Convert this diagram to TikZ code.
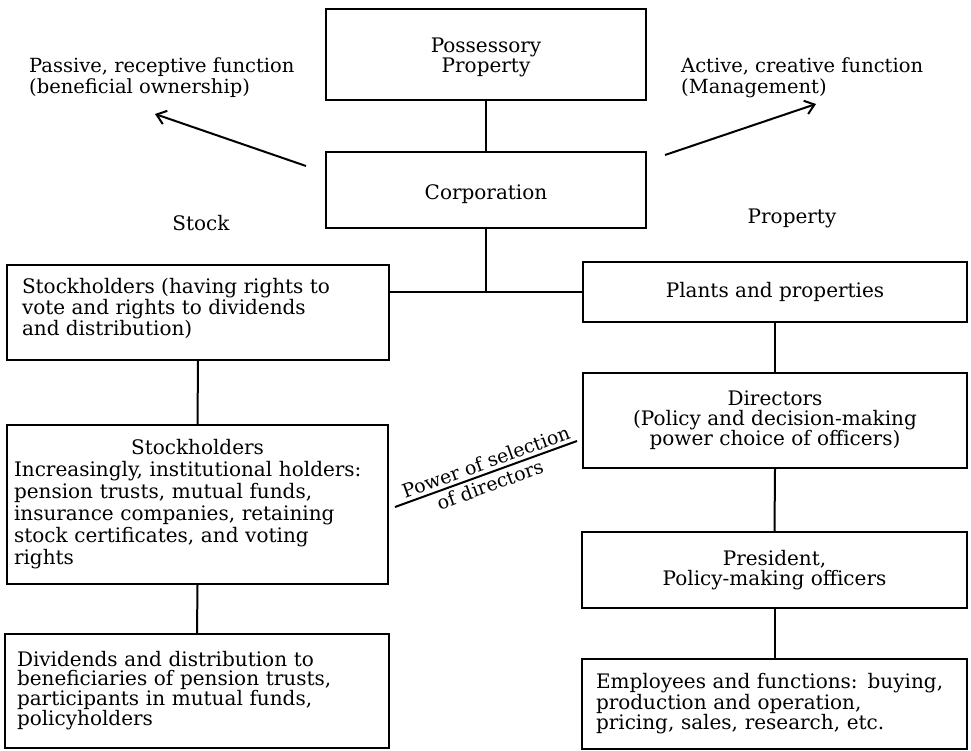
\documentclass[tikz,border=0pt]{standalone}
\usepackage{fontspec}
\setmainfont{DejaVu Serif}
\usetikzlibrary{arrows.meta}
\newcommand\fsz[2]{\fontsize{#1}{#2}\selectfont}
\newcommand\lowerit[2]{\raisebox{#1}[\height][\depth]{#2}}
\begin{document}
\begin{tikzpicture}[x=1pt,y=-1pt,
  box/.style={draw,line width=2.2pt,inner sep=0pt,font=\fsz{20}{20}},
  conn/.style={line width=2pt},
  arr/.style={line width=2pt,-{Straight Barb[length=9pt,width=14pt]}},
  lbl/.style={inner sep=0pt,font=\fsz{19.5}{21},align=left}]
\fill[white] (0,0) rectangle (971,751);
\path[use as bounding box] (0,0) rectangle (971,751);

% boxes
\node[box,minimum width=320pt,minimum height=91pt] (poss) at (486,54.5)
  {\lowerit{-4pt}{\begin{tabular}{@{}c@{}}Possessory\\[-1pt]Property\end{tabular}}};
\node[box,minimum width=320pt,minimum height=76pt] (corp) at (486,190) {\lowerit{-4pt}{Corporation}};
\node[box,minimum width=382pt,minimum height=95pt] (sh1) at (198,312.5)
  {\lowerit{4pt}{\parbox{352pt}{\raggedright\fsz{20}{21}Stockholders (having rights to\\vote and rights to dividends\\and distribution)}}};
\node[box,minimum width=381pt,minimum height=159pt,text width=367pt,align=left,font=\fsz{20}{22}] (sh2) at (197.5,504.5)
  {\makebox[367pt][c]{Stockholders}\\Increasingly, institutional holders:\\pension trusts, mutual funds,\\insurance companies, retaining\\stock certificates, and voting\\rights};
\node[box,minimum width=384pt,minimum height=114pt,text width=360pt,align=left,font=\fsz{20}{18.5}] (div) at (197,691)
  {Dividends and distribution to\\beneficiaries of pension trusts,\\participants in mutual funds,\\policyholders};
\node[box,minimum width=384pt,minimum height=60pt] (plants) at (775,292) {Plants and properties};
\node[box,minimum width=384pt,minimum height=95pt,align=center] (dir) at (775,420.5)
  {Directors\\(Policy and decision-making\\power choice of officers)};
\node[box,minimum width=385pt,minimum height=76pt,align=center] (pres) at (774.5,570)
  {President,\\Policy-making officers};
\node[box,minimum width=385pt,minimum height=90pt,text width=357pt,align=left,font=\fsz{20}{18.5}] (emp) at (774.5,704)
  {Employees and functions: buying,\\production and operation,\\pricing, sales, research, etc.};

% connectors
\draw[conn] (poss.south) -- (corp.north);
\coordinate (jn) at (corp.south |- plants.west);
\draw[conn] (corp.south) -- (jn);
\draw[conn] (sh1.east |- plants.west) -- (plants.west);
\draw[conn] (sh1.south) -- (sh2.north);
\draw[conn] (sh2.south) -- (div.north);
\draw[conn] (plants.south) -- (dir.north);
\draw[conn] (dir.south) -- (pres.north);
\draw[conn] (pres.south) -- (emp.north);

% arrows
\coordinate (la1) at (306,166);
\coordinate (la2) at (155,114);
\coordinate (ra1) at (665,155);
\coordinate (ra2) at (816,104);
\draw[arr] (la1) -- (la2);
\draw[arr] (ra1) -- (ra2);

% labels
\node[lbl,anchor=west] (passive) at (29,78) {Passive, receptive function\\(beneficial ownership)};
\node[lbl,anchor=west] (active) at (681,78) {Active, creative function\\(Management)};
\node[inner sep=0pt,font=\fsz{20}{20}] (stock) at (201,223) {Stock};
\node[inner sep=0pt,font=\fsz{20}{20}] (propl) at (792,218) {Property};

% power of selection
\coordinate (pw1) at (395,507);
\coordinate (pw2) at (577,441);
\draw[conn] (pw1) -- (pw2)
  node[pos=0.52,sloped,above,inner sep=3pt,font=\fsz{19}{19}] (pwa) {Power of selection}
  node[pos=0.5,sloped,below,inner sep=3pt,font=\fsz{19}{19}] (pwb) {of directors};
\end{tikzpicture}
\end{document}
